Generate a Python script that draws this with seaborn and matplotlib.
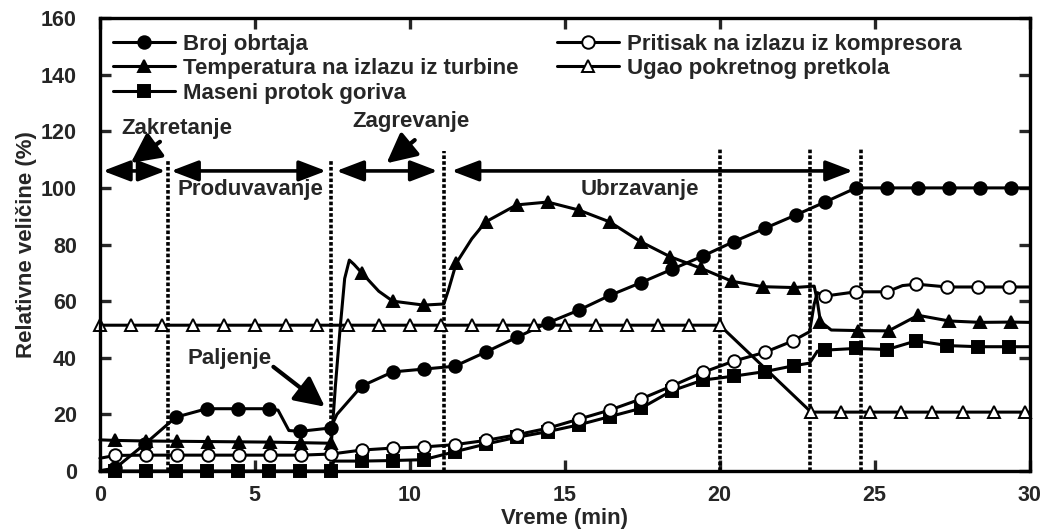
import numpy as np
import pandas as pd
import seaborn as sns
import matplotlib
matplotlib.use('Agg')
import matplotlib.pyplot as plt

# --- podaci ocitani sa slike (vreme u min, vrednosti u %) ---
t_broj = [0.1, 0.5, 1.45, 2.45, 3.45, 4.45, 5.45, 5.75, 6.1, 6.45, 7.45, 7.65, 8.45, 9.45, 10.45,
          11.45, 12.45, 13.45, 14.45, 15.45, 16.45, 17.45, 18.45, 19.45, 20.45, 21.45, 22.45,
          23.4, 24.4, 25.4, 26.4, 27.4, 28.4, 29.4, 30.0]
v_broj = [0.3, 1.0, 9.5, 19.0, 22.0, 22.0, 22.0, 21.5, 14.3, 14.0, 15.2, 20.0, 30.0, 35.0, 36.0,
          37.0, 42.0, 47.2, 52.3, 56.8, 62.0, 66.5, 71.2, 75.9, 81.0, 85.7, 90.4,
          95.0, 100.0, 100.0, 100.0, 100.0, 100.0, 100.0, 100.0]
m_broj = [1, 2, 3, 4, 5, 6, 9, 10, 12, 13, 14, 15, 16, 17, 18, 19, 20, 21, 22, 23, 24, 25, 26,
          27, 28, 29, 30, 31, 32, 33]

t_temp = [0.0, 0.5, 1.5, 2.5, 3.5, 4.5, 5.5, 6.5, 7.47, 7.6, 7.75, 7.9, 8.05, 8.2, 8.45, 9.0,
          9.45, 10.45, 11.1, 11.25, 11.5, 12.0, 12.45, 13.45, 14.45, 15.45, 16.45, 17.45, 18.4,
          19.4, 20.4, 21.4, 22.4, 23.05, 23.15, 23.25, 23.6, 24.45, 25.45, 26.4, 27.4, 28.4, 29.4, 30.0]
v_temp = [11.0, 10.8, 10.6, 10.5, 10.4, 10.3, 10.2, 10.0, 9.8, 30.0, 50.0, 68.0, 74.5, 73.0, 70.0, 63.5,
          60.0, 58.6, 59.0, 64.0, 73.4, 82.0, 88.0, 94.0, 95.0, 92.2, 88.0, 81.0, 75.7,
          71.6, 67.0, 65.1, 64.8, 65.3, 60.0, 52.8, 49.8, 49.6, 49.5, 55.0, 53.0, 52.5, 52.6, 52.5]
m_temp = [1, 2, 3, 4, 5, 6, 7, 8, 14, 16, 17, 20, 22, 23, 24, 25, 26, 27, 28, 29, 30, 31, 32,
          35, 37, 38, 39, 40, 41, 42]

t_prit = [0.0, 0.5, 1.5, 2.5, 3.5, 4.5, 5.5, 6.5, 7.47, 8.45, 9.45, 10.45, 11.45, 12.45, 13.45,
          14.45, 15.45, 16.45, 17.45, 18.45, 19.45, 20.45, 21.45, 22.35, 22.9, 23.05, 23.15, 23.4,
          24.4, 25.4, 25.9, 26.35, 27.35, 28.35, 29.35, 30.0]
v_prit = [4.5, 5.5, 5.6, 5.6, 5.6, 5.6, 5.6, 5.6, 6.0, 7.4, 8.1, 8.5, 9.3, 10.8, 12.8,
          15.1, 18.3, 21.5, 25.4, 30.0, 34.8, 38.8, 41.9, 45.9, 49.2, 59.0, 63.0, 61.8,
          63.3, 63.3, 65.5, 66.0, 65.0, 65.0, 65.0, 65.0]
m_prit = [1, 2, 3, 4, 5, 6, 7, 8, 9, 10, 11, 12, 13, 14, 15, 16, 17, 18, 19, 20, 21, 22, 23,
          27, 28, 29, 31, 32, 33, 34]

t_mas = [0.0, 0.5, 1.5, 2.45, 3.45, 4.45, 5.45, 6.45, 7.45, 7.55, 8.45, 9.45, 10.45, 11.45, 12.45,
         13.45, 14.45, 15.45, 16.45, 17.45, 18.45, 19.45, 20.45, 21.45, 22.4, 22.9, 23.15, 23.4,
         24.4, 25.4, 26.35, 27.35, 28.35, 29.35, 30.0]
v_mas = [0.0, 0.0, 0.0, 0.0, 0.0, 0.0, 0.0, 0.0, 0.0, 3.5, 3.5, 3.7, 4.0, 6.8, 9.5,
         11.9, 13.9, 16.3, 19.2, 22.1, 28.3, 32.1, 33.5, 35.1, 37.2, 38.1, 42.3, 42.7,
         43.3, 42.9, 46.0, 44.3, 43.9, 43.9, 43.9]
m_mas = [1, 2, 3, 4, 5, 6, 7, 8, 10, 11, 12, 13, 14, 15, 16, 17, 18, 19, 20, 21, 22, 23, 24,
         27, 28, 29, 30, 31, 32, 33]

t_ugao = [0, 1, 2, 3, 4, 5, 6, 7, 8, 9, 10, 11, 12, 13, 14, 15, 16, 17, 18, 19, 20,
          22.95, 23.9, 24.85, 25.85, 26.85, 27.85, 28.85, 29.85, 30.0]
v_ugao = [51.5, 51.5, 51.5, 51.5, 51.5, 51.5, 51.5, 51.5, 51.5, 51.5, 51.5, 51.5, 51.5, 51.5,
          51.5, 51.5, 51.5, 51.5, 51.5, 51.5, 51.5,
          20.8, 20.8, 20.8, 20.8, 20.8, 20.8, 20.8, 20.8, 20.8]
m_ugao = list(range(29))

# granice faza (vertikalne isprekidane linije)
faze_x = [2.2, 7.47, 11.1, 20.0, 22.92, 24.55]
faze_vrh = [110, 110, 113, 114, 114, 114]

# dvostrane strelice faza: (od, do, visina)
strelice = [(0.1, 2.12, 106), (2.3, 7.3, 106), (7.63, 10.9, 106), (11.35, 24.3, 106)]

# tekstovi: (tekst, x centra, y)
natpisi = [('Zakretanje', 2.49, 121), ('Produvavanje', 4.85, 99.3), ('Zagrevanje', 10.03, 123.4),
           ('Ubrzavanje', 17.42, 99.6), ('Paljenje', 4.18, 39.6)]
# kose strelice: (x_rep, y_rep, x_vrh, y_vrh)
pokazivaci = [(1.94, 116.3, 1.0, 108.8), (10.16, 116.9, 9.25, 108.7), (5.6, 36.8, 7.26, 22.7)]

sns.set_theme(style='ticks')
plt.rcParams['font.family'] = ['Liberation Sans', 'DejaVu Sans']
plt.rcParams['font.weight'] = 'bold'

fig, ax = plt.subplots(figsize=(10.4, 5.31), dpi=100)
fig.subplots_adjust(left=0.096, right=0.990, top=0.966, bottom=0.113)

serije = [
    (t_broj, v_broj, m_broj, 'o', 'black', 9, 'Broj obrtaja'),
    (t_temp, v_temp, m_temp, '^', 'black', 9, 'Temperatura na izlazu iz turbine'),
    (t_mas, v_mas, m_mas, 's', 'black', 8.5, 'Maseni protok goriva'),
    (t_prit, v_prit, m_prit, 'o', 'white', 9, 'Pritisak na izlazu iz kompresora'),
    (t_ugao, v_ugao, m_ugao, '^', 'white', 9, 'Ugao pokretnog pretkola'),
]
for t, v, m, mk, face, ms, lab in serije:
    df = pd.DataFrame({'t': t, 'v': v})
    sns.lineplot(data=df, x='t', y='v', ax=ax, sort=False, estimator=None, color='black',
                 lw=2.2, marker=mk, markevery=m, markersize=ms, markerfacecolor=face,
                 markeredgecolor='black', markeredgewidth=1.4, label=lab, clip_on=False,
                 legend=False)

for x, vrh in zip(faze_x, faze_vrh):
    ax.plot([x, x], [0, vrh], color='black', lw=2.6, ls=(0, (1.0, 0.6)), zorder=1)

for x0, x1, y in strelice:
    ax.annotate('', xy=(x1, y), xytext=(x0, y),
                arrowprops=dict(arrowstyle='<|-|>,head_length=1.1,head_width=0.42',
                                mutation_scale=15, lw=2.6, color='black',
                                shrinkA=0, shrinkB=0))

for tekst, x, y in natpisi:
    ax.text(x, y, tekst, fontsize=16, fontweight='bold', ha='center', va='center')

for x0, y0, x1, y1 in pokazivaci:
    ax.annotate('', xy=(x1, y1), xytext=(x0, y0),
                arrowprops=dict(arrowstyle='-|>,head_length=1.0,head_width=0.5',
                                mutation_scale=18, lw=3.0, color='black',
                                shrinkA=0, shrinkB=0))

ax.set_xlim(0, 30)
ax.set_ylim(0, 160)
ax.set_xticks([0, 5, 10, 15, 20, 25, 30])
ax.set_yticks([0, 20, 40, 60, 80, 100, 120, 140, 160])
ax.tick_params(direction='in', length=8, width=2.4, top=True, right=True, labelsize=15.5)
ax.tick_params(axis='x', pad=10)
ax.tick_params(axis='y', pad=16.5)
for s in ax.spines.values():
    s.set_linewidth(2.4)
    s.set_color('black')
ax.set_xlabel('Vreme (min)', fontsize=16, fontweight='bold')
ax.set_ylabel('Relativne veličine (%)', fontsize=16, fontweight='bold')
ax.xaxis.set_label_coords(0.5, -0.082)
ax.yaxis.set_label_coords(-0.068, 0.5)

ax.legend(loc='upper left', bbox_to_anchor=(0.014, 0.965), ncol=2, frameon=False,
          fontsize=16, borderaxespad=0, borderpad=0, handlelength=2.8,
          handletextpad=0.35, labelspacing=0.15, columnspacing=1.75)

fig.savefig('out.png', dpi=100)
